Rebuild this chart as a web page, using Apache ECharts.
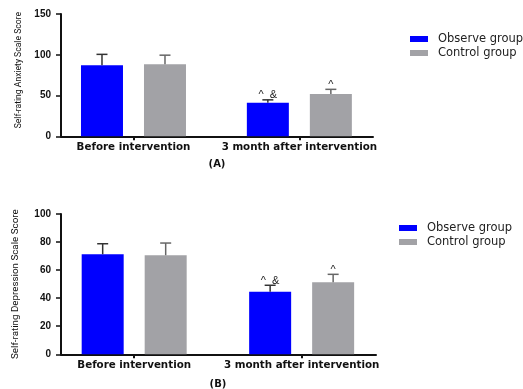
<!DOCTYPE html>
<html>
<head>
<meta charset="utf-8">
<script src="https://cdn.jsdelivr.net/npm/echarts@6/dist/echarts.min.js"></script>
<style>html,body{margin:0;padding:0;background:#fff}#c{width:523px;height:389px}</style>
</head>
<body>
<div id="c"></div>
<script>
var categories = ['Before intervention', '3 month after intervention'];
var seriesNames = ['Observe group', 'Control group'];
// Panel A: Self-rating Anxiety Scale
var anxObserve = [87, 41];
var anxObserveSD = [13.5, 3.7];
var anxControl = [88.5, 52];
var anxControlSD = [11, 5.6];
var anxObserveMark = ['', '^  &'];
var anxControlMark = ['', '^'];
// Panel B: Self-rating Depression Scale
var depObserve = [71.3, 44.6];
var depObserveSD = [7.5, 4.6];
var depControl = [70.6, 51.3];
var depControlSD = [8.7, 5.7];
var depObserveMark = ['', '^  &'];
var depControlMark = ['', '^'];
var anxTicks = {min: 0, max: 150, interval: 50};
var depTicks = {min: 0, max: 100, interval: 20};

var BLUE = '#0000ff', GRAY = '#a2a2a6';
var BAR_W = 42, BAR_GAP = '50%';
var OFF = 31.5;

function pairs(vals) { return vals.map(function (v, i) { return [i, v]; }); }
function errData(vals, sds, marks) { return vals.map(function (v, i) { return [i, v, sds[i], marks[i]]; }); }

function errSeries(name, axisIdx, vals, sds, marks, off, color) {
  return {
    type: 'custom', name: name, xAxisIndex: axisIdx, yAxisIndex: axisIdx, z: 5,
    data: errData(vals, sds, marks),
    encode: {x: 0, y: 1},
    renderItem: function (params, api) {
      var x = api.value(0), v = api.value(1), sd = api.value(2);
      var mark = marks[params.dataIndex];
      var p0 = api.coord([x, v]);
      var p1 = api.coord([x, v + sd]);
      var cx = p0[0] + off;
      return {
        type: 'group',
        children: [
          {type: 'line', shape: {x1: cx, y1: p0[1], x2: cx, y2: p1[1]}, style: {stroke: color, lineWidth: 1.5}},
          {type: 'line', shape: {x1: cx - 5.5, y1: p1[1], x2: cx + 5.5, y2: p1[1]}, style: {stroke: color, lineWidth: 1.5}},
          {type: 'text', x: cx, y: p1[1] + 1, style: {text: mark, textAlign: 'center', textVerticalAlign: 'bottom', fontSize: 11, fontFamily: 'Liberation Sans', fill: '#222'}}
        ]
      };
    }
  };
}

function xAxis(idx) {
  return {
    type: 'value', gridIndex: idx, min: -0.437, max: 1.444,
    splitLine: {show: false},
    axisLine: {show: true, onZero: false, lineStyle: {color: '#111', width: 2}},
    axisTick: {show: true, customValues: [0, 1], length: 4, lineStyle: {color: '#111', width: 2}},
    axisLabel: {customValues: [0, 1], margin: 6, formatter: function (v) { return categories[Math.round(v)]; },
      fontFamily: 'DejaVu Sans', fontWeight: 'bold', fontSize: 10.3, color: '#111'}
  };
}
function yAxis(idx, t, name, nameSize, gap, pad) {
  return {
    type: 'value', gridIndex: idx, min: t.min, max: t.max, interval: t.interval,
    name: name, nameLocation: 'middle', nameRotate: 90, nameGap: gap,
    nameTextStyle: {fontFamily: 'Roboto', fontSize: nameSize, color: '#111', padding: pad},
    splitLine: {show: false},
    axisLine: {show: true, onZero: false, lineStyle: {color: '#111', width: 2}},
    axisTick: {show: true, length: 5, lineStyle: {color: '#111', width: 1.5}},
    axisLabel: {margin: 10, fontFamily: 'Liberation Sans', fontWeight: 'bold', fontSize: 10, color: '#111'}
  };
}
function legend(left, top) {
  return {
    orient: 'vertical', left: left, top: top, padding: 0, itemGap: 0,
    itemWidth: 18, itemHeight: 6, icon: 'rect', data: seriesNames, selectedMode: false,
    textStyle: {fontFamily: 'DejaVu Sans', fontSize: 11.5, color: '#222', padding: [0, 0, 0, 5], lineHeight: 14}
  };
}

var chart = echarts.init(document.getElementById('c'), null, {renderer: 'canvas'});
chart.setOption({
  animation: false,
  backgroundColor: '#fff',
  title: [
    {text: '(A)', left: 217, top: 159, textAlign: 'center', padding: 0, textStyle: {fontFamily: 'DejaVu Sans', fontWeight: 'bold', fontSize: 10, color: '#111'}},
    {text: '(B)', left: 218, top: 379, textAlign: 'center', padding: 0, textStyle: {fontFamily: 'DejaVu Sans', fontWeight: 'bold', fontSize: 10, color: '#111'}}
  ],
  legend: [legend(410, 32), legend(399, 221)],
  grid: [
    {left: 61, right: 150, top: 14, height: 122.3},
    {left: 61, right: 147, top: 214, height: 140.3}
  ],
  xAxis: [xAxis(0), xAxis(1)],
  yAxis: [
    yAxis(0, anxTicks, 'Self-rating Anxiety Scale Score', 8.6, 38, [0, 0, 0, 10]),
    yAxis(1, depTicks, 'Self-rating Depression Scale Score', 9.8, 40, 0)
  ],
  series: [
    {type: 'bar', name: seriesNames[0], xAxisIndex: 0, yAxisIndex: 0, data: pairs(anxObserve), barWidth: BAR_W, barGap: BAR_GAP, itemStyle: {color: BLUE}},
    {type: 'bar', name: seriesNames[1], xAxisIndex: 0, yAxisIndex: 0, data: pairs(anxControl), barWidth: BAR_W, barGap: BAR_GAP, itemStyle: {color: GRAY}},
    {type: 'bar', name: seriesNames[0], xAxisIndex: 1, yAxisIndex: 1, data: pairs(depObserve), barWidth: BAR_W, barGap: BAR_GAP, itemStyle: {color: BLUE}},
    {type: 'bar', name: seriesNames[1], xAxisIndex: 1, yAxisIndex: 1, data: pairs(depControl), barWidth: BAR_W, barGap: BAR_GAP, itemStyle: {color: GRAY}},
    errSeries('eA1', 0, anxObserve, anxObserveSD, anxObserveMark, -OFF, '#333'),
    errSeries('eA2', 0, anxControl, anxControlSD, anxControlMark, OFF, '#666'),
    errSeries('eB1', 1, depObserve, depObserveSD, depObserveMark, -OFF, '#333'),
    errSeries('eB2', 1, depControl, depControlSD, depControlMark, OFF, '#666')
  ]
});
</script>
</body>
</html>
